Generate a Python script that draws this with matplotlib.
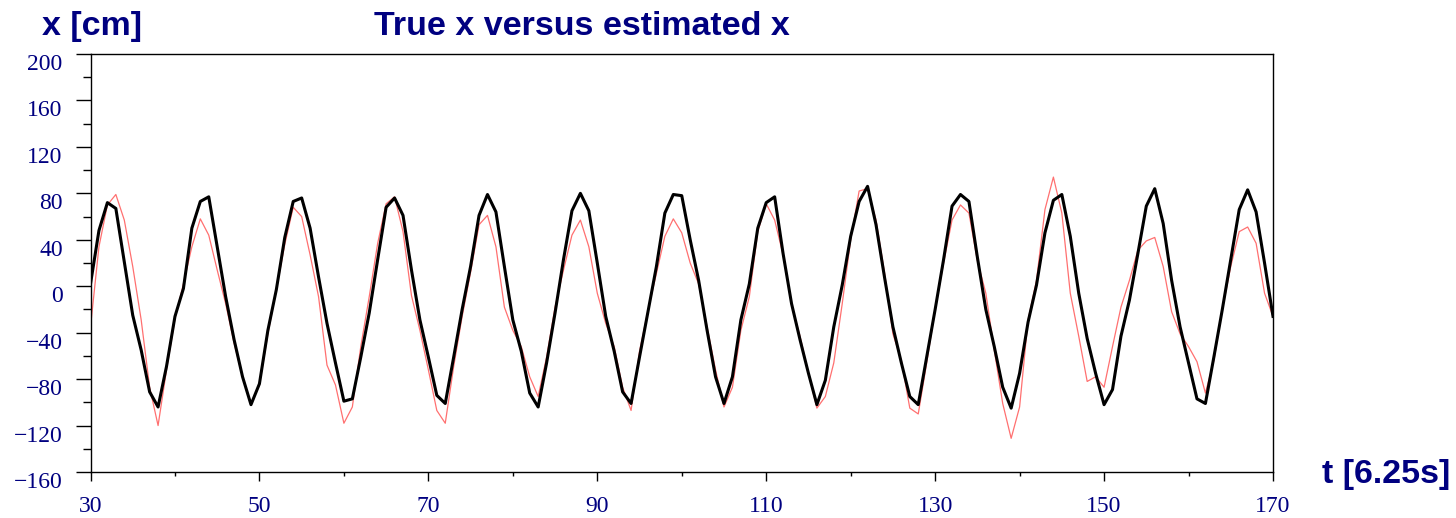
import numpy as np
import matplotlib.pyplot as plt

plt.rcParams['font.family'] = 'Liberation Serif'
navy = '#000080'

t = np.arange(30, 171)

# true position
x_true = [2, 48, 72, 67, 21, -25, -55, -91, -104, -69,
          -26, -2, 50, 73, 77, 34, -9, -46, -78, -102,
          -84, -38, -3, 42, 73, 76, 50, 8, -32, -66,
          -99, -97, -61, -23, 23, 68, 76, 61, 14, -29,
          -61, -94, -101, -61, -20, 17, 61, 79, 64, 17,
          -29, -56, -92, -104, -66, -23, 23, 65, 80, 65,
          20, -26, -56, -91, -101, -61, -22, 17, 63, 79,
          78, 40, 5, -38, -78, -101, -78, -29, 2, 50,
          72, 77, 28, -15, -46, -75, -102, -81, -35, 1,
          43, 73, 86, 53, 8, -35, -66, -95, -102, -61,
          -20, 23, 69, 79, 73, 25, -20, -52, -87, -105,
          -75, -31, 1, 46, 74, 79, 43, -6, -45, -75,
          -102, -89, -43, -12, 28, 69, 84, 54, 5, -35,
          -66, -97, -101, -61, -20, 23, 66, 83, 64, 20,
          -26]

# filter estimate
x_est = [-35, 34, 70, 79, 57, 17, -29, -87, -120, -72,
         -28, 2, 34, 58, 44, 14, -15, -49, -78, -101,
         -85, -41, -3, 36, 68, 60, 27, -9, -68, -85,
         -118, -104, -52, -9, 37, 71, 77, 47, -8, -38,
         -72, -107, -118, -69, -26, 12, 53, 61, 34, -18,
         -38, -52, -78, -95, -61, -18, 14, 44, 57, 34,
         -6, -32, -52, -87, -107, -56, -21, 11, 43, 58,
         46, 20, 2, -35, -72, -104, -87, -38, -9, 47,
         71, 57, 27, -16, -43, -75, -105, -95, -66, -15,
         40, 82, 84, 57, 12, -41, -64, -105, -110, -66,
         -20, 20, 57, 70, 63, 22, -6, -55, -101, -131,
         -104, -29, 5, 66, 94, 63, -6, -43, -82, -78,
         -87, -52, -18, 5, 31, 39, 42, 17, -22, -41,
         -52, -65, -92, -64, -20, 17, 47, 51, 37, -6,
         -26]

x_ticks = np.arange(30, 171, 20)
y_ticks = np.arange(-160, 201, 40)

fig = plt.figure(figsize=(14.56, 5.18), dpi=100)
ax = fig.add_axes([0.06216, 0.0888, 0.81215, 0.80695])

ax.plot(t, x_est, color='#ff7070', lw=0.9)
ax.plot(t, x_true, color='black', lw=2.2)

ax.set_xlim(30, 170)
ax.set_ylim(-160, 200)
ax.set_xticks(x_ticks)
ax.set_xticks(x_ticks[:-1] + 10, minor=True)
ax.set_yticks(y_ticks)
ax.set_yticks(y_ticks[:-1] + 20, minor=True)

ax.tick_params(axis='y', which='major', direction='out', length=11, width=1.0,
               pad=9, labelsize=17, labelcolor=navy)
ax.tick_params(axis='y', which='minor', direction='out', length=6, width=1.0)
ax.tick_params(axis='x', which='major', direction='out', length=6.5, width=1.0,
               pad=11, labelsize=17, labelcolor=navy)
ax.tick_params(axis='x', which='minor', direction='out', length=3, width=1.0)

for lab in ax.get_yticklabels():
    lab.set_va('top')

for sp in ax.spines.values():
    sp.set_linewidth(1.0)

bold = dict(family='Liberation Sans', weight='bold', size=24.5, color=navy,
            ha='left', va='baseline')
fig.text(0.0288, 0.9324, 'x [cm]', **bold)
fig.text(0.2569, 0.9324, 'True x versus estimated x', **bold)
fig.text(0.9080, 0.0676, 't [6.25s]', **bold)

fig.savefig('out.png', dpi=100)
